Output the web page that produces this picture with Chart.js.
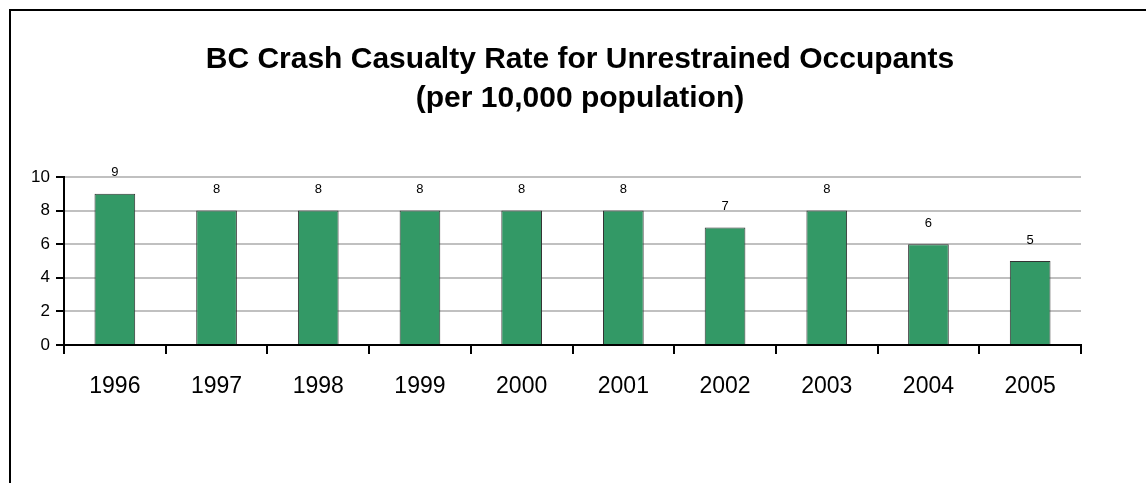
<!DOCTYPE html>
<html>
<head>
<meta charset="utf-8">
<script src="https://cdn.jsdelivr.net/npm/chart.js@4.4.0/dist/chart.umd.min.js"></script>
<style>
    html, body { margin: 0; padding: 0; background: #fff; overflow: hidden; }
    #frame {
        position: absolute; left: 9px; top: 9px;
        width: 1300px; height: 600px;
        border-left: 2px solid #000; border-top: 2px solid #000;
    }
    #wrap { position: absolute; left: 0; top: 0; width: 1146px; height: 483px; }
</style>
</head>
<body>
<div id="frame"></div>
<div id="wrap"><canvas id="chart"></canvas></div>
<script>
// Chart data
const years = ['1996', '1997', '1998', '1999', '2000', '2001', '2002', '2003', '2004', '2005'];
const casualtyRate = [9, 8, 8, 8, 8, 8, 7, 8, 6, 5];
const yTicks = [0, 2, 4, 6, 8, 10];

const FONT = '"Liberation Sans", Arial, sans-serif';

// draws the value above each bar
const barValues = {
    id: 'barValues',
    afterDatasetsDraw(chart) {
        const ctx = chart.ctx;
        const meta = chart.getDatasetMeta(0);
        ctx.save();
        ctx.font = '13px ' + FONT;
        ctx.fillStyle = '#000';
        ctx.textAlign = 'center';
        ctx.textBaseline = 'middle';
        meta.data.forEach((bar, i) => {
            ctx.fillText(String(casualtyRate[i]), bar.x, bar.y - 21);
        });
        ctx.restore();
    }
};

const ctx = document.getElementById('chart').getContext('2d');
new Chart(ctx, {
    type: 'bar',
    data: {
        labels: years,
        datasets: [{
            data: casualtyRate,
            backgroundColor: '#339966',
            borderColor: '#333333',
            borderWidth: 1,
            barPercentage: 0.4,
            categoryPercentage: 1.0
        }]
    },
    options: {
        responsive: true,
        maintainAspectRatio: false,
        animation: false,
        layout: { padding: { top: 20, left: 14, right: 0, bottom: 78 } },
        plugins: {
            legend: { display: false },
            tooltip: { enabled: false },
            title: {
                display: true,
                text: ['BC Crash Casualty Rate for Unrestrained Occupants', '(per 10,000 population)'],
                color: '#000',
                font: { family: FONT, size: 30, weight: 'bold', lineHeight: 1.3 },
                padding: { top: 20, bottom: 59 }
            }
        },
        scales: {
            x: {
                grid: { display: true, drawOnChartArea: false, offset: true, color: '#000', tickLength: 9, lineWidth: 2 },
                border: { color: '#000', width: 2 },
                ticks: { color: '#000', padding: 19, font: { family: FONT, size: 23 } },
                afterFit(scale) { scale.height = 60; }
            },
            y: {
                min: 0,
                max: 10,
                afterBuildTicks(scale) { scale.ticks = yTicks.map(v => ({ value: v })); },
                grid: { color: '#c0c0c0', lineWidth: 2, tickColor: '#000', tickLength: 8 },
                border: { color: '#000', width: 2 },
                ticks: { color: '#000', padding: 6, font: { family: FONT, size: 17 } },
                afterFit(scale) { scale.width = 50; }
            },
            // empty right-hand axis, only keeps the space right of the plot
            yRight: {
                position: 'right',
                display: true,
                grid: { display: false },
                border: { display: false },
                ticks: { display: false },
                afterFit(scale) { scale.width = 65; }
            }
        }
    },
    plugins: [barValues]
});
</script>
</body>
</html>
